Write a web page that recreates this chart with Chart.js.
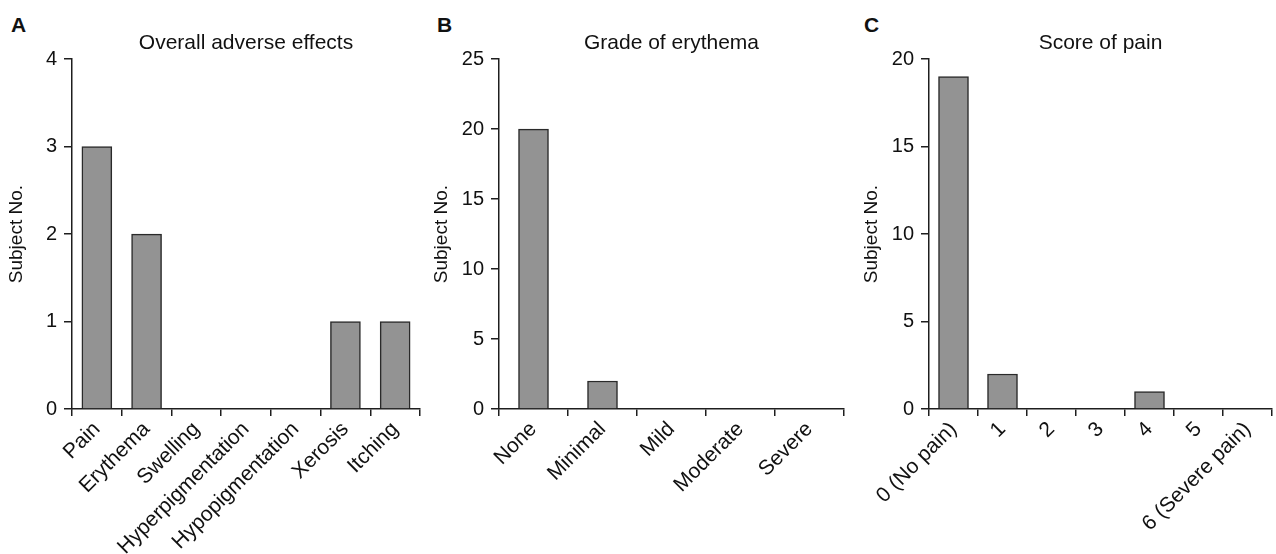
<!DOCTYPE html>
<html>
<head>
<meta charset="utf-8">
<script src="https://cdn.jsdelivr.net/npm/chart.js@4.4.1/dist/chart.umd.min.js"></script>
<style>
    body { margin: 0; background: #fff; }
    #wrap { position: relative; width: 1276px; height: 554px; overflow: hidden; }
    canvas { position: absolute; top: 0; }
    .panel-letter {
        position: absolute;
        top: 13px;
        font-family: "Liberation Sans Narrow", "Liberation Sans", Arial, sans-serif;
        font-weight: bold;
        font-size: 21px;
        color: #111;
    }
</style>
</head>
<body>
<div id="wrap">
    <div class="panel-letter" style="left: 11px;">A</div>
    <div class="panel-letter" style="left: 437px;">B</div>
    <div class="panel-letter" style="left: 864px;">C</div>
    <canvas id="chartA" width="425" height="554" style="left: 0px;"></canvas>
    <canvas id="chartB" width="430" height="554" style="left: 425px;"></canvas>
    <canvas id="chartC" width="421" height="554" style="left: 855px;"></canvas>
</div>
<script>
// Panel A - overall adverse effects
const effectLabels = ['Pain', 'Erythema', 'Swelling', 'Hyperpigmentation', 'Hypopigmentation', 'Xerosis', 'Itching'];
const effectCounts = [3, 2, 0, 0, 0, 1, 1];

// Panel B - grade of erythema
const erythemaLabels = ['None', 'Minimal', 'Mild', 'Moderate', 'Severe'];
const erythemaCounts = [20, 2, 0, 0, 0];

// Panel C - score of pain
const painLabels = ['0 (No pain)', '1', '2', '3', '4', '5', '6 (Severe pain)'];
const painCounts = [19, 2, 0, 0, 1, 0, 0];

const FONT = '"Liberation Sans", Arial, sans-serif';
const AXIS_COLOR = '#1e1e1e';

function makePanel(canvasId, title, labels, counts, yMax, yStep, yWidth, rightPad) {
    return new Chart(document.getElementById(canvasId), {
        type: 'bar',
        data: {
            labels: labels,
            datasets: [{
                data: counts,
                backgroundColor: '#939393',
                borderColor: '#2a2a2a',
                borderWidth: 1.5,
                barThickness: 30,
            }]
        },
        options: {
            responsive: false,
            animation: false,
            layout: { padding: { left: 0, right: rightPad, top: 0, bottom: 0 } },
            plugins: {
                legend: { display: false },
                tooltip: { enabled: false },
                title: {
                    display: true,
                    text: title,
                    fullSize: false,
                    color: '#111',
                    font: { family: FONT, size: 21, weight: 'normal', lineHeight: 1.2 },
                    padding: { top: 31, bottom: 3 },
                },
            },
            scales: {
                x: {
                    border: { display: true, color: AXIS_COLOR, width: 1.5 },
                    grid: {
                        offset: true,
                        drawOnChartArea: false,
                        drawTicks: true,
                        tickLength: 7,
                        color: AXIS_COLOR,
                        lineWidth: 1.5,
                    },
                    ticks: {
                        autoSkip: false,
                        maxRotation: 45,
                        minRotation: 45,
                        color: '#111',
                        padding: 1,
                        font: { family: FONT, size: 21 },
                    },
                    afterFit: (scale) => { scale.height = 145; },
                },
                y: {
                    min: 0,
                    max: yMax,
                    border: { display: true, color: AXIS_COLOR, width: 1.5 },
                    grid: {
                        drawOnChartArea: false,
                        drawTicks: true,
                        tickLength: 8,
                        color: AXIS_COLOR,
                        lineWidth: 1.5,
                    },
                    ticks: {
                        stepSize: yStep,
                        color: '#111',
                        padding: 7,
                        font: { family: FONT, size: 20 },
                    },
                    title: {
                        display: true,
                        text: 'Subject No.',
                        color: '#111',
                        font: { family: FONT, size: 19 },
                        padding: { top: 5, bottom: 0 },
                    },
                    afterFit: (scale) => { scale.width = yWidth; },
                },
            },
        },
    });
}

makePanel('chartA', 'Overall adverse effects', effectLabels, effectCounts, 4, 1, 72, 5);
makePanel('chartB', 'Grade of erythema', erythemaLabels, erythemaCounts, 25, 5, 74, 11);
makePanel('chartC', 'Score of pain', painLabels, painCounts, 20, 5, 74, 4);
</script>
</body>
</html>
